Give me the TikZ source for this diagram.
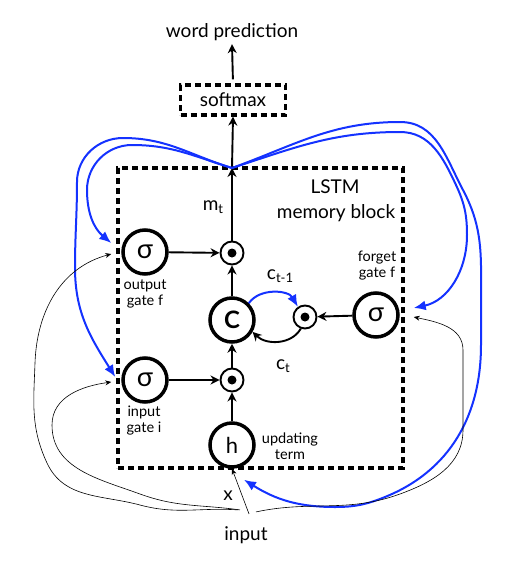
\documentclass[tikz,border=0pt]{standalone}
\usepackage{fontspec}
\setmainfont{Lato}
\usetikzlibrary{arrows.meta}
\newcommand\lowsub[1]{\raisebox{-0.35ex}{\fontsize{13}{13}\selectfont #1}}
\definecolor{blueline}{RGB}{20,50,255}
\begin{document}
\begin{tikzpicture}[x=1pt,y=-1pt,
  big/.style={font=\fontsize{19}{21}\selectfont},
  small/.style={font=\fontsize{14.5}{16}\selectfont, align=center, inner sep=0pt},
  gate/.style={circle, draw, line width=3.5pt, minimum size=44pt, inner sep=0pt, font=\fontsize{27}{27}\selectfont},
  mult/.style={circle, draw, line width=1.9pt, minimum size=23pt, inner sep=0pt,
    path picture={\fill (path picture bounding box.center) circle (4.5pt);}},
  dbox/.style={draw, line width=3.2pt, dash pattern=on 6pt off 4pt},
  arr/.style={-{Stealth[length=9pt,width=9pt]}, line width=1.9pt},
  tarr/.style={-{Stealth[length=6pt,width=5pt]}, line width=0.6pt},
  barr/.style={-{Latex[length=12pt,width=10pt]}, line width=2pt, draw=blueline},
]
\useasboundingbox (0,0) rectangle (516,563);

% text
\node[big] (wp) at (232,32) {word prediction};
\node[big, dbox, minimum width=105pt, minimum height=30pt, inner sep=0pt] (sm) at (233,100) {softmax};
\node[dbox, minimum width=285pt, minimum height=300pt] (lstm) at (260.5,318) {};
\node[big] (lt) at (335,187) {LSTM};
\node[big] (mb) at (336,213) {memory block};
\coordinate (j) at (232,168);

% gates
\node[gate] (og) at (145,252) {σ};
\node[gate] (ig) at (145,380) {σ};
\node[gate] (fg) at (376,315) {σ};
\node[gate, font=\fontsize{24}{24}\selectfont\bfseries] (C) at (232,320) {C};
\node[gate, font=\fontsize{22}{22}\selectfont] (h) at (232,445) {h};
\node[mult] (od) at (232,253) {};
\node[mult] (id) at (232,380) {};
\node[mult] (fd) at (305,317) {};

% small labels
\node[small] (ogl) at (145,294) {output\\gate f};
\node[small] (igl) at (144,421) {input\\gate i};
\node[small] (fgl) at (377,266) {forget\\gate f};
\node[small] (hl) at (290,446) {updating\\term};
\node[font=\fontsize{19}{19}\selectfont] (mt) at (213,207) {m\lowsub{t}};
\node[font=\fontsize{19}{19}\selectfont] (ct1) at (280,276) {c\lowsub{t-1}};
\node[font=\fontsize{19}{19}\selectfont] (ct) at (283,366) {c\lowsub{t}};
\node[big] (x) at (228,496) {x};
\node[big] (inp) at (246,535) {input};

% black arrows
\draw[arr, shorten <=4pt] (sm.north) -- (wp.south);
\draw[arr] (j) -- (sm.south);
\draw[arr] (od) -- (j);
\draw[arr] (og) -- (od);
\draw[arr] (C) -- (od);
\draw[arr] (id) -- (C);
\draw[arr] (ig) -- (id);
\draw[arr] (h) -- (id);
\draw[arr] (fg) -- (fd);
\draw[arr] (fd.250) to[out=-120,in=-45] (C.-30);
\draw[barr] (C.45) to[out=55,in=120] (fd.125);

% blue feedback curves
\draw[barr] (j) to[out=163,in=0] (132,145) to[out=180,in=90] (87,190) to[out=-90,in=140] ([xshift=-10pt,yshift=9pt]og.west);
\draw[barr] (j) to[out=163,in=0] (123,138) to[out=180,in=90] (77,182) to[out=-90,in=90] (75,268) to[out=-90,in=122] ([xshift=-6pt,yshift=3pt]ig.west);
\draw[barr] (j) to[out=18,in=180] (400,132) to[out=0,in=115] (456,185) to[out=-65,in=90] (467,235) to[out=-90,in=12] ([xshift=14pt,yshift=7pt]fg.east);
\draw[barr] (j) to[out=20,in=180] (400,122) to[out=0,in=118] (463,190) to[out=-62,in=90] (481,300) to[out=-90,in=90] (481,345) to[out=-90,in=22] (385,497) to[out=-158,in=0] (335,507) to[out=180,in=-32] ([xshift=12pt,yshift=-11pt]h.south);

% thin input curves
\draw[tarr] ([xshift=-8pt,yshift=13pt]inp.north) to[out=176,in=-15] (140,505) to[out=165,in=-65] (47,463) to[out=115,in=-92] (35,363) to[out=88,in=195] ([xshift=-10pt,yshift=-2pt]og.west);
\draw[tarr] ([xshift=-6pt,yshift=13pt]inp.north) to[out=172,in=-20] (140,494) to[out=160,in=-90] (52,425) to[out=90,in=188] ([xshift=-10pt,yshift=-2pt]ig.west);
\draw[tarr] ([xshift=10pt,yshift=11pt]inp.north) to[out=12,in=200] (400,494) to[out=20,in=-90] (463,430) to[out=90,in=-90] (463,350) to[out=90,in=-12] ([xshift=14pt,yshift=-2pt]fg.east);
\draw[tarr] ([xshift=3pt,yshift=9pt]inp.north) -- (h.south);
\end{tikzpicture}
\end{document}
